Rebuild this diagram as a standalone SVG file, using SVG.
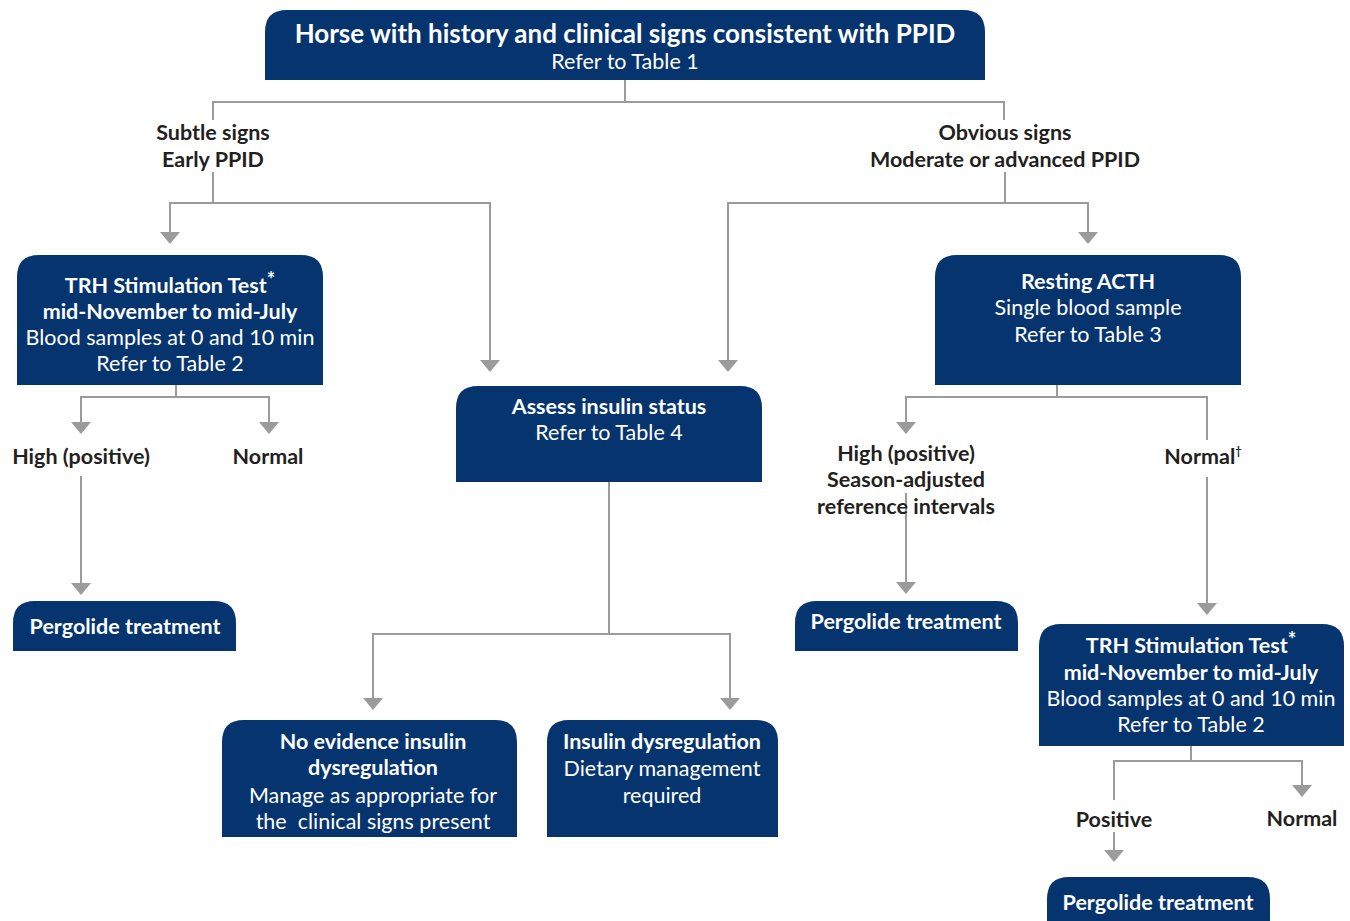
<svg xmlns="http://www.w3.org/2000/svg" width="1350" height="921" viewBox="0 0 1350 921">
<defs>
<style>
.box{fill:#06346f}
.tw{fill:#ffffff;font-family:Lato,"Liberation Sans",sans-serif;font-size:21.5px;text-anchor:middle}
.b{font-weight:bold}
.tl{fill:#231f20;font-family:Lato,"Liberation Sans",sans-serif;font-size:21.5px;font-weight:bold;text-anchor:middle}
.ln{fill:none;stroke:#9b9b9b;stroke-width:2}
.ah{fill:#9b9b9b}
.title{font-size:26px}
.sup{font-size:20px}
.pre{white-space:pre}
</style>
</defs>
<rect width="1350" height="921" fill="#ffffff"/>

<g id="connectors">
<polyline class="ln" points="625,80 625,102"/>
<polyline class="ln" points="213,120 213,102 1004,102 1004,120"/>
<polyline class="ln" points="213,172 213,203"/>
<polyline class="ln" points="170,232 170,203 490,203 490,361"/>
<polygon class="ah" points="160,232 180,232 170,244"/>
<polygon class="ah" points="480,360 500,360 490,372"/>
<polyline class="ln" points="1005,172 1005,203"/>
<polyline class="ln" points="728,361 728,203 1088,203 1088,232"/>
<polygon class="ah" points="718,360 738,360 728,372"/>
<polygon class="ah" points="1078,232 1098,232 1088,244"/>

<polyline class="ln" points="176,385 176,397"/>
<polyline class="ln" points="81,423 81,397 269,397 269,423"/>
<polygon class="ah" points="71,422 91,422 81,434"/>
<polygon class="ah" points="259,422 279,422 269,434"/>
<polyline class="ln" points="81,476 81,584"/>
<polygon class="ah" points="71,583 91,583 81,595"/>

<polyline class="ln" points="609,482 609,634"/>
<polyline class="ln" points="373,699 373,634 730,634 730,699"/>
<polygon class="ah" points="363,698 383,698 373,710"/>
<polygon class="ah" points="720,698 740,698 730,710"/>

<polyline class="ln" points="1057,385 1057,397"/>
<polyline class="ln" points="906,423 906,397 1207,397 1207,440"/>
<polygon class="ah" points="896,422 916,422 906,434"/>
<polyline class="ln" points="906,493 906,583"/>
<polygon class="ah" points="896,582 916,582 906,594"/>
<polyline class="ln" points="1207,477 1207,604"/>
<polygon class="ah" points="1197,603 1217,603 1207,615"/>

<polyline class="ln" points="1191,746 1191,761"/>
<polyline class="ln" points="1114,800 1114,761 1302,761 1302,786"/>
<polygon class="ah" points="1292,785 1312,785 1302,797"/>
<polyline class="ln" points="1114,832 1114,851"/>
<polygon class="ah" points="1104,850 1124,850 1114,862"/>
</g>

<g id="n-top">
<path class="box" d="M265 80 V32 Q265 10 287 10 H963 Q985 10 985 32 V80 Z"/>
<text class="tw b title" x="625" y="43">Horse with history and clinical signs consistent with PPID</text>
<text class="tw" x="625" y="69">Refer to Table 1</text>
</g>

<g id="l-subtle">
<text class="tl" x="213" y="140">Subtle signs</text>
<text class="tl" x="213" y="167">Early PPID</text>
</g>
<g id="l-obvious">
<text class="tl" x="1005" y="140">Obvious signs</text>
<text class="tl" x="1005" y="167">Moderate or advanced PPID</text>
</g>

<g id="n-trh1">
<path class="box" d="M17 385 V277 Q17 255 39 255 H301 Q323 255 323 277 V385 Z"/>
<text class="tw b" x="170" y="293">TRH Stimulation Test<tspan class="sup" dy="-6">*</tspan></text>
<text class="tw b" x="170" y="319">mid-November to mid-July</text>
<text class="tw" x="170" y="345">Blood samples at 0 and 10 min</text>
<text class="tw" x="170" y="371">Refer to Table 2</text>
</g>

<g id="l-high1"><text class="tl" x="81" y="464">High (positive)</text></g>
<g id="l-normal1"><text class="tl" x="268" y="464">Normal</text></g>

<g id="n-perg1">
<path class="box" d="M13 651 V623 Q13 601 35 601 H214 Q236 601 236 623 V651 Z"/>
<text class="tw b" x="125" y="634">Pergolide treatment</text>
</g>

<g id="n-assess">
<path class="box" d="M456 482 V408 Q456 386 478 386 H740 Q762 386 762 408 V482 Z"/>
<text class="tw b" x="609" y="414">Assess insulin status</text>
<text class="tw" x="609" y="440">Refer to Table 4</text>
</g>

<g id="n-noevidence">
<path class="box" d="M222 837 V742 Q222 720 244 720 H495 Q517 720 517 742 V837 Z"/>
<text class="tw b" x="373" y="749">No evidence insulin</text>
<text class="tw b" x="373" y="775">dysregulation</text>
<text class="tw" x="373" y="803">Manage as appropriate for</text>
<text class="tw pre" x="373" y="829" xml:space="preserve">the  clinical signs present</text>
</g>

<g id="n-insulin">
<path class="box" d="M547 837 V742 Q547 720 569 720 H756 Q778 720 778 742 V837 Z"/>
<text class="tw b" x="662" y="749">Insulin dysregulation</text>
<text class="tw" x="662" y="776">Dietary management</text>
<text class="tw" x="662" y="803">required</text>
</g>

<g id="n-acth">
<path class="box" d="M935 385 V277 Q935 255 957 255 H1219 Q1241 255 1241 277 V385 Z"/>
<text class="tw b" x="1088" y="289">Resting ACTH</text>
<text class="tw" x="1088" y="315">Single blood sample</text>
<text class="tw" x="1088" y="342">Refer to Table 3</text>
</g>

<g id="l-high2">
<text class="tl" x="906" y="461">High (positive)</text>
<text class="tl" x="906" y="487">Season-adjusted</text>
<text class="tl" x="906" y="514">reference intervals</text>
</g>
<g id="l-normal2"><text class="tl" x="1203" y="464">Normal<tspan style="font-size:11px" dy="-9">†</tspan></text></g>

<g id="n-perg2">
<path class="box" d="M795 651 V623 Q795 601 817 601 H996 Q1018 601 1018 623 V651 Z"/>
<text class="tw b" x="906" y="629">Pergolide treatment</text>
</g>

<g id="n-trh2">
<path class="box" d="M1039 746 V646 Q1039 624 1061 624 H1322 Q1344 624 1344 646 V746 Z"/>
<text class="tw b" x="1191" y="653">TRH Stimulation Test<tspan class="sup" dy="-6">*</tspan></text>
<text class="tw b" x="1191" y="680">mid-November to mid-July</text>
<text class="tw" x="1191" y="706">Blood samples at 0 and 10 min</text>
<text class="tw" x="1191" y="732">Refer to Table 2</text>
</g>

<g id="l-positive"><text class="tl" x="1114" y="827">Positive</text></g>
<g id="l-normal3"><text class="tl" x="1302" y="826">Normal</text></g>

<g id="n-perg3">
<path class="box" d="M1047 921 V899 Q1047 877 1069 877 H1248 Q1270 877 1270 899 V921 Z"/>
<text class="tw b" x="1158" y="910">Pergolide treatment</text>
</g>
</svg>
